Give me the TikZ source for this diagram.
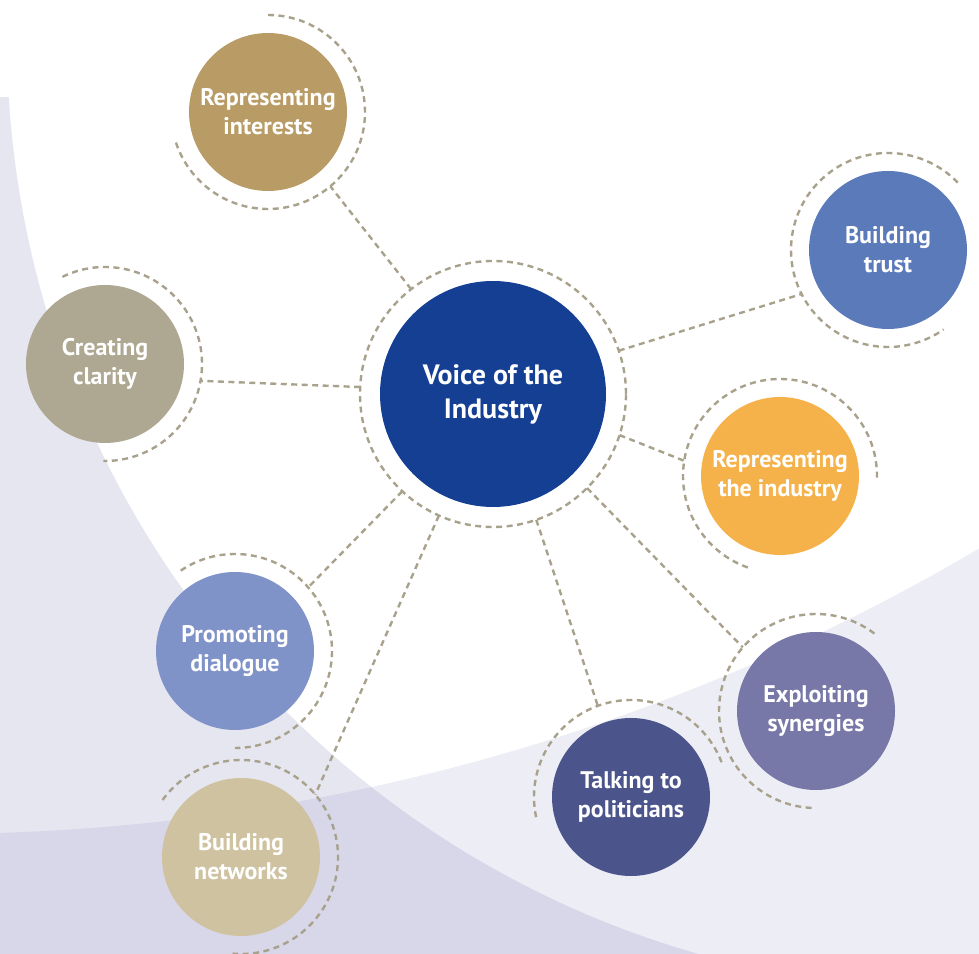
\documentclass[tikz,border=0pt]{standalone}
\usepackage{fontspec}
\setmainfont{PT Sans}
\usepackage{tikz}

\definecolor{voiceblue}{RGB}{21,63,147}
\definecolor{goldtan}{RGB}{185,156,101}
\definecolor{greybeige}{RGB}{174,167,145}
\definecolor{trustblue}{RGB}{91,122,186}
\definecolor{amber}{RGB}{245,178,75}
\definecolor{softblue}{RGB}{128,147,201}
\definecolor{sandbeige}{RGB}{207,194,160}
\definecolor{navyviolet}{RGB}{75,85,140}
\definecolor{lavender}{RGB}{119,120,168}
\definecolor{dashgrey}{RGB}{168,162,140}
\definecolor{bgpurple}{RGB}{120,120,180}

\tikzset{
	hub/.style={circle, inner sep=0, minimum size=226, outer sep=20, fill=voiceblue,
		text=white, align=center, font=\bfseries\fontsize{28}{34}\selectfont},
	topic/.style={circle, inner sep=0, minimum size=158, outer sep=18, fill=#1,
		text=white, align=center, font=\bfseries\fontsize{24}{29}\selectfont},
	ring/.style={draw=dashgrey, line width=2.4, dash pattern=on 6 off 4.5},
}

\begin{document}
\begin{tikzpicture}[x=1pt, y=1pt]
			%%%%% START %%%%%
			\useasboundingbox (0, 0) rectangle (979, 953);
			
			% background bands
			\begin{scope}
				\clip (0, 0) rectangle (979, 855);
				\fill[bgpurple, opacity=0.185, even odd rule] (-20, -20) rectangle (1950, 1900) (959, 915) circle (952);
			\end{scope}
			\begin{scope}
				\clip (0, 0) rectangle (979, 953);
				\fill[bgpurple, opacity=0.135, even odd rule] (-2150, -20) rectangle (2020, 4260) (-68, 2179) circle (2060);
			\end{scope}
			
			\node[hub] (voice) at (493, 559) {Voice of the\\Industry};
			
			\node[topic=goldtan] (interests) at (268, 841) {Representing\\interests};
			\node[topic=greybeige] (clarity) at (105, 589) {Creating\\clarity};
			\node[topic=trustblue] (trust) at (888, 703) {Building\\trust};
			\node[topic=amber] (industry) at (780, 477) {Representing\\the industry};
			\node[topic=softblue] (dialogue) at (235, 302) {Promoting\\dialogue};
			\node[topic=sandbeige] (networks) at (241, 96) {Building\\networks};
			\node[topic=navyviolet] (politicians) at (631, 156) {Talking to\\politicians};
			\node[topic=lavender] (synergies) at (816, 242) {Exploiting\\synergies};
			
			% dashed rings
			\draw[ring] (voice.center) circle (133);
			\draw[ring] (interests.center) ++(90:97) arc (90:-163:97);
			\draw[ring] (clarity.center) ++(116:97) arc (116:-91:97);
			\draw[ring] (trust.center) ++(44:97) arc (44:305:97);
			\draw[ring] (industry.center) ++(-1:97) arc (-1:253:97);
			\draw[ring] (dialogue.center) ++(124:97) arc (124:-90:97);
			\draw[ring] (networks.center) ++(144:97) arc (144:-95:97);
			\draw[ring] (politicians.center) ++(192:97) arc (192:19:97);
			\draw[ring] (synergies.center) ++(53:97) arc (53:270:97);
			
			% spokes
			\draw[ring] (voice.128) -- (interests.-50);
			\draw[ring] (voice.177) -- (clarity.-10);
			\draw[ring] (voice.19) -- (trust.207);
			\draw[ring] (voice.-18) -- (industry.171);
			\draw[ring] (voice.227) -- (dialogue.41);
			\draw[ring] (voice.-114) -- (networks.40);
			\draw[ring] (voice.-71) -- (politicians.110);
			\draw[ring] (voice.-45) -- (synergies.139);
			%%%%% END %%%%%
		\end{tikzpicture}
\end{document}
